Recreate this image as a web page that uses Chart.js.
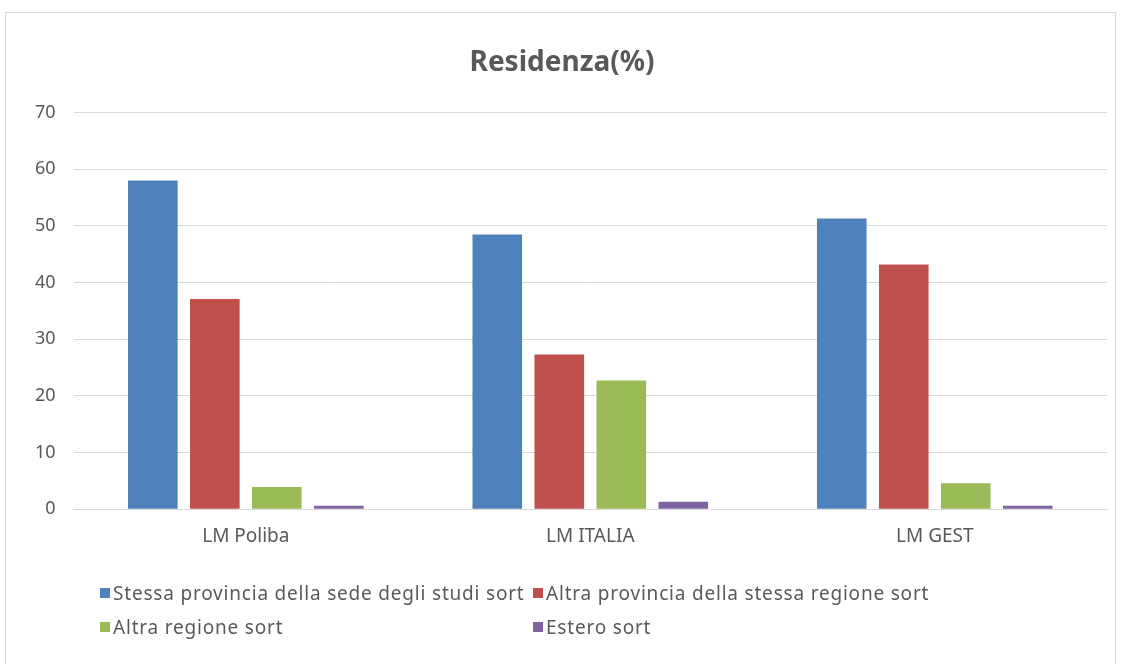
<!DOCTYPE html>
<html>
<head>
<meta charset="utf-8">
<script src="https://cdn.jsdelivr.net/npm/chart.js@4/dist/chart.umd.min.js"></script>
<style>
  body { margin: 0; background: #fff; }
  #wrap { position: relative; width: 1126px; height: 664px; }
  #frame { position: absolute; left: 5px; top: 12px; width: 1111px; height: 660px; border: 1px solid #d9d9d9; box-sizing: border-box; }
  canvas { position: absolute; left: 0; top: 0; }
  #legend { position: absolute; left: 100px; top: 580px; display: grid; grid-template-columns: 433px 420px; row-gap: 8px;
    font-family: "Noto Sans", sans-serif; font-size: 19px; letter-spacing: 0.8px; color: #595959; }
  #legend div { display: flex; align-items: center; height: 26px; white-space: nowrap; }
  #legend span.box { display: inline-block; width: 10px; height: 10px; margin-right: 3px; }
</style>
</head>
<body>
<div id="wrap">
  <div id="frame"></div>
  <canvas id="chartCanvas" width="1126" height="664"></canvas>
  <div id="legend"></div>
</div>
<script>
const categories = ['LM Poliba', 'LM ITALIA', 'LM GEST'];
const seriesNames = [
  'Stessa provincia della sede degli studi sort',
  'Altra provincia della stessa regione sort',
  'Altra regione sort',
  'Estero sort'
];
const stessaProvincia = [58.0, 48.5, 51.3];
const altraProvincia = [37.1, 27.3, 43.2];
const altraRegione = [3.9, 22.7, 4.6];
const estero = [0.6, 1.3, 0.6];
const colors = ['#4f81bd', '#c0504d', '#9bbb59', '#8064a2'];
const yTicks = [0, 10, 20, 30, 40, 50, 60, 70];

const values = [stessaProvincia, altraProvincia, altraRegione, estero];

const ctx = document.getElementById('chartCanvas').getContext('2d');
const chart = new Chart(ctx, {
  type: 'bar',
  data: {
    labels: categories,
    datasets: seriesNames.map((name, i) => ({
      label: name,
      data: values[i],
      backgroundColor: colors[i],
      borderWidth: 0,
      categoryPercentage: 0.72,
      barPercentage: 0.8
    }))
  },
  options: {
    responsive: false,
    animation: false,
    layout: { padding: { left: 17, right: 19, top: 22, bottom: 108 } },
    plugins: {
      legend: { display: false },
      tooltip: { enabled: false },
      title: {
        display: true,
        text: 'Residenza(%)',
        color: '#595959',
        font: { family: '"Noto Sans", sans-serif', size: 28, weight: 'bold' },
        padding: { top: 24, bottom: 33 }
      }
    },
    scales: {
      x: {
        grid: { display: false },
        border: { color: '#d9d9d9', width: 1 },
        ticks: { color: '#595959', font: { family: '"Noto Sans", sans-serif', size: 19 }, padding: 8 }
      },
      y: {
        min: 0,
        max: 70,
        afterBuildTicks: axis => { axis.ticks = yTicks.map(v => ({ value: v })); },
        grid: { color: '#d9d9d9', lineWidth: 1, drawTicks: false },
        border: { display: false },
        ticks: { color: '#595959', font: { family: '"Noto Sans", sans-serif', size: 18 }, padding: 18 }
      }
    }
  }
});

// legend in two columns like the original
const legendEl = document.getElementById('legend');
seriesNames.forEach((name, i) => {
  const item = document.createElement('div');
  item.innerHTML = `<span class="box" style="background:${colors[i]}"></span>${name}`;
  legendEl.appendChild(item);
});
</script>
</body>
</html>
